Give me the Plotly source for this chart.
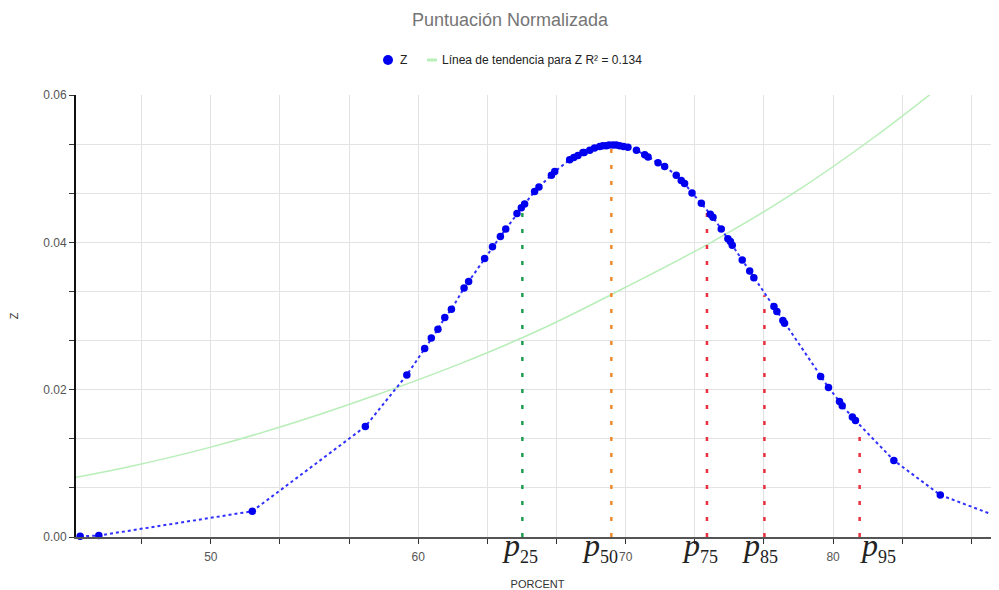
import plotly.graph_objects as go

# ---- data ----
PORCENT = [43.7, 44.6, 52.0, 57.45, 59.45, 60.31, 60.63, 60.95, 61.28, 61.60,
           62.21, 62.43, 63.20, 63.58, 63.96, 64.22, 64.76, 64.97, 65.13, 65.61,
           65.82, 66.42, 66.58, 67.30, 67.50, 67.70, 67.94, 68.00, 68.27, 68.50,
           68.75, 68.90, 69.07, 69.20, 69.39, 69.55, 69.71, 69.90, 70.11, 70.52,
           70.92, 71.08, 71.56, 71.88, 72.44, 72.68, 72.84, 73.20, 73.65, 74.08,
           74.21, 74.61, 74.93, 75.05, 75.14, 75.62, 75.98, 76.18, 77.15, 77.29,
           77.58, 77.66, 79.40, 79.78, 80.31, 80.44, 80.93, 81.08, 82.93, 85.17,
           90.00]
Z = [0.0001, 0.0002, 0.0035, 0.0150, 0.0220, 0.0256, 0.0270, 0.0282, 0.0298, 0.0309,
     0.0338, 0.0347, 0.0378, 0.0394, 0.0408, 0.0418, 0.0439, 0.0447, 0.0452, 0.0469,
     0.0475, 0.0491, 0.0496, 0.0512, 0.0515, 0.0518, 0.0522, 0.0522, 0.0525, 0.0528,
     0.0530, 0.0531, 0.0531, 0.0532, 0.0532, 0.0532, 0.0531, 0.0530, 0.0529, 0.0525,
     0.0519, 0.0516, 0.0508, 0.0503, 0.0491, 0.0484, 0.0480, 0.0467, 0.0453, 0.0438,
     0.0434, 0.0418, 0.0405, 0.0401, 0.0396, 0.0376, 0.0361, 0.0352, 0.0313, 0.0306,
     0.0294, 0.0290, 0.0218, 0.0203, 0.0184, 0.0178, 0.0163, 0.0158, 0.0104, 0.0057,
     0.0006]

TREND_X = [43.5, 46, 50, 54, 58, 62, 66, 70, 74, 78, 82, 86]
TREND_Y = [0.0081, 0.0095, 0.0122, 0.0155, 0.0193, 0.0235, 0.0283, 0.0339,
           0.0398, 0.0465, 0.0543, 0.0630]

PCT_NAMES = ["25", "50", "75", "85", "95"]
PCT_X = [65.02, 69.31, 73.92, 76.69, 81.28]
PCT_TOP = [0.0440, 0.0528, 0.0440, 0.0328, 0.0150]
PCT_COLORS = ["#1f9d55", "#f0892e", "#e8313c", "#e8313c", "#e8313c"]
LABEL_SHIFT = [-2, -11, -7, -4, 18]

TITLE = "Puntuación Normalizada"
SERIES_NAME = "Z"
TREND_NAME = "Línea de tendencia para Z R² = 0.134"

SANS = "Liberation Sans, Arial, sans-serif"
SERIF = "Liberation Serif, DejaVu Serif, serif"

# page body has an 8px margin; figure is sized so it ends at the window edge
OFF = 8
W, H = 999 - OFF, 590 - OFF
ML, MT, MB, MR = 76 - OFF, 95 - OFF, 590 - 537, 0
PW, PH = W - ML - MR, H - MT - MB


def px_x(sx):  # screen x -> paper x
    return (sx - OFF - ML) / PW


def px_y(sy):  # screen y -> paper y
    return (H - MB - (sy - OFF)) / PH


fig = go.Figure()

# trend line
fig.add_trace(go.Scatter(x=TREND_X, y=TREND_Y, mode="lines", name=TREND_NAME,
                         line=dict(color="#b8eeb8", width=1.5, shape="spline"),
                         hoverinfo="skip"))

# percentile lines
for name, px, top, col in zip(PCT_NAMES, PCT_X, PCT_TOP, PCT_COLORS):
    fig.add_trace(go.Scatter(x=[px, px], y=[0, top], mode="lines",
                             line=dict(color=col, width=2.5, dash="4px,12px"),
                             hoverinfo="skip"))

# dotted connecting line
fig.add_trace(go.Scatter(x=PORCENT, y=Z, mode="lines",
                         line=dict(color="#3030ff", width=2, dash="dot")))
# markers
fig.add_trace(go.Scatter(x=PORCENT, y=Z, mode="markers", name=SERIES_NAME,
                         marker=dict(color="#0000ee", size=7.5), cliponaxis=False))

annotations = []
for name, px, col, sh in zip(PCT_NAMES, PCT_X, PCT_COLORS, LABEL_SHIFT):
    annotations.append(dict(
        x=px, y=0, xref="x", yref="y", yanchor="top", xanchor="center",
        xshift=sh, yshift=12, showarrow=False,
        text="<i>p</i><sub><span style='font-size:18px'>" + name + "</span></sub>",
        font=dict(family=SERIF, size=32, color="#222222")))

# custom legend (short line symbol like the reference)
LEG_Y = 60
annotations.append(dict(x=px_x(398), y=px_y(LEG_Y), xref="paper", yref="paper",
                        xanchor="left", yanchor="middle", showarrow=False,
                        text=SERIES_NAME,
                        font=dict(family=SANS, size=12, color="#222222")))
annotations.append(dict(x=px_x(440), y=px_y(LEG_Y), xref="paper", yref="paper",
                        xanchor="left", yanchor="middle", showarrow=False,
                        text=TREND_NAME,
                        font=dict(family=SANS, size=12, color="#222222")))
shapes = [
    dict(type="circle", xref="paper", yref="paper",
         x0=px_x(383), x1=px_x(393), y0=px_y(LEG_Y + 5), y1=px_y(LEG_Y - 5),
         fillcolor="#0000ee", line=dict(width=0)),
    dict(type="line", xref="paper", yref="paper",
         x0=px_x(427), x1=px_x(437), y0=px_y(LEG_Y), y1=px_y(LEG_Y),
         line=dict(color="#b8eeb8", width=3)),
]

fig.update_layout(
    width=W, height=H,
    margin=dict(l=ML, r=MR, t=MT, b=MB, autoexpand=False),
    paper_bgcolor="white", plot_bgcolor="white",
    title=dict(text=TITLE, x=(510 - OFF) / W, xref="container", xanchor="center",
               y=1 - (20 - OFF) / H, yanchor="middle",
               font=dict(family=SANS, size=18, color="#757575")),
    showlegend=False,
    annotations=annotations,
    shapes=shapes,
    xaxis=dict(range=[43.5, 88], dtick=10, tick0=0, showgrid=True, automargin=False,
               gridcolor="#e3e3e3", gridwidth=1, zeroline=False,
               showline=True, linecolor="#555555", linewidth=2,
               ticks="outside", ticklen=5, tickcolor="#333333",
               ticklabelstandoff=3,
               tickfont=dict(family=SANS, size=12, color="#555555"),
               minor=dict(dtick=10 / 3, tick0=0, showgrid=True, gridcolor="#e3e3e3",
                          ticks="outside", ticklen=5, tickcolor="#333333"),
               title=dict(text="PORCENT", standoff=26,
                          font=dict(family=SANS, size=11, color="#333333"))),
    yaxis=dict(range=[0, 0.06], dtick=0.02, tick0=0, tickformat=".2f",
               showgrid=True, automargin=False,
               gridcolor="#e3e3e3", gridwidth=1, zeroline=False,
               showline=True, linecolor="#111111", linewidth=2,
               ticks="outside", ticklen=5, tickcolor="#333333",
               tickfont=dict(family=SANS, size=12, color="#555555"),
               minor=dict(dtick=0.02 / 3, tick0=0, showgrid=True, gridcolor="#e3e3e3",
                          ticks="outside", ticklen=5, tickcolor="#333333"),
               title=dict(text="Z", standoff=24,
                          font=dict(family=SANS, size=11, color="#333333"))),
)

fig.write_html("out.html")
